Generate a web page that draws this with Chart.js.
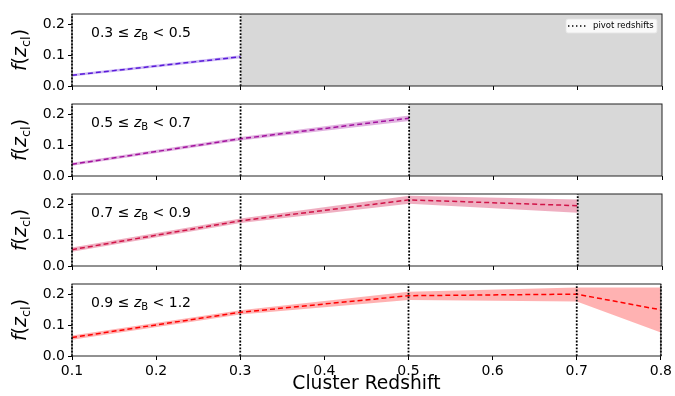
<!DOCTYPE html>
<html>
<head>
<meta charset="utf-8">
<script src="https://cdn.jsdelivr.net/npm/chart.js@4.4.1/dist/chart.umd.min.js"></script>
<style>
  html, body { margin: 0; padding: 0; background: #fff; }
  #wrap { position: relative; width: 675px; height: 396px; }
  #wrap canvas { position: absolute; left: 0; top: 0; }
</style>
</head>
<body>
<div id="wrap">
  <canvas id="c0" width="675" height="396"></canvas>
  <canvas id="c1" width="675" height="396"></canvas>
  <canvas id="c2" width="675" height="396"></canvas>
  <canvas id="c3" width="675" height="396"></canvas>
</div>
<script>
// ---------- data ----------
const xPivots = [0.1, 0.3, 0.5, 0.7, 0.8];
const xTicks = [0.1, 0.2, 0.3, 0.4, 0.5, 0.6, 0.7, 0.8];
const yTicks = [0.0, 0.1, 0.2];
const binLow = ['0.3', '0.5', '0.7', '0.9'];
const binHigh = ['0.5', '0.7', '0.9', '1.2'];

const f1 = [0.035, 0.095];
const f1lo = [0.031, 0.090];
const f1hi = [0.039, 0.100];

const f2 = [0.038, 0.121, 0.188];
const f2lo = [0.033, 0.115, 0.179];
const f2hi = [0.043, 0.127, 0.197];

const f3 = [0.053, 0.147, 0.215, 0.196];
const f3lo = [0.046, 0.140, 0.202, 0.173];
const f3hi = [0.060, 0.154, 0.228, 0.216];

const f4 = [0.060, 0.142, 0.196, 0.201, 0.150];
const f4lo = [0.053, 0.135, 0.182, 0.177, 0.076];
const f4hi = [0.067, 0.149, 0.209, 0.223, 0.223];

const maskStart = [0.3, 0.5, 0.7, null];
const legendLabel = 'pivot redshifts';
const xTitle = 'Cluster Redshift';

const series = [f1, f2, f3, f4];
const seriesLo = [f1lo, f2lo, f3lo, f4lo];
const seriesHi = [f1hi, f2hi, f3hi, f4hi];

// ---------- styles ----------
const lineColors = ['#5b1ad9', '#a3129e', '#d01448', '#ff0000'];
const bandColors = ['rgba(91,26,217,0.3)', 'rgba(163,18,158,0.32)', 'rgba(208,20,72,0.34)', 'rgba(255,0,0,0.3)'];
const panelTop = [14, 104, 194, 284];
const panelBottom = [86, 176, 266, 356];
const FONT = 'DejaVu Sans';

Chart.defaults.font.family = FONT;
Chart.defaults.color = '#000';

function toPts(ys) { return ys.map((y, i) => ({ x: xPivots[i], y: y })); }

const decoPlugin = {
  id: 'deco',
  beforeDatasetsDraw(chart) {
    const p = chart.options.plugins.deco.panel;
    const { ctx, chartArea: a, scales } = chart;
    ctx.save();
    if (maskStart[p] !== null) {
      const x0 = scales.x.getPixelForValue(maskStart[p]);
      ctx.fillStyle = '#d8d8d8';
      ctx.fillRect(x0, a.top, a.right - x0, a.bottom - a.top);
    }
    ctx.restore();
  },
  afterDatasetsDraw(chart) {
    const p = chart.options.plugins.deco.panel;
    const { ctx, chartArea: a, scales } = chart;
    ctx.save();
    // pivot lines
    ctx.strokeStyle = '#000';
    ctx.lineWidth = 1.8;
    ctx.setLineDash([1.8, 1.6]);
    const n = series[p].length;
    for (let i = 0; i < n; i++) {
      const x = scales.x.getPixelForValue(xPivots[i]);
      ctx.beginPath();
      ctx.moveTo(x, a.bottom);
      ctx.lineTo(x, a.top);
      ctx.stroke();
    }
    ctx.setLineDash([]);
    // frame
    ctx.strokeStyle = '#222';
    ctx.lineWidth = 1;
    ctx.strokeRect(a.left, a.top, a.right - a.left, a.bottom - a.top);

    // bin annotation: 0.3 ≤ z_B < 0.5
    let x = a.left + 19;
    const yb = a.top + 22.5;
    ctx.fillStyle = '#000';
    ctx.textBaseline = 'alphabetic';
    ctx.textAlign = 'left';
    ctx.font = '14px "' + FONT + '"';
    const s1 = binLow[p] + ' \u2264 ';
    ctx.fillText(s1, x, yb); x += ctx.measureText(s1).width;
    ctx.font = 'italic 14px "' + FONT + '"';
    ctx.fillText('z', x, yb); x += ctx.measureText('z').width;
    ctx.font = '10px "' + FONT + '"';
    ctx.fillText('B', x, yb + 3); x += ctx.measureText('B').width;
    ctx.font = '14px "' + FONT + '"';
    ctx.fillText(' < ' + binHigh[p], x, yb);

    // y-axis title f(z_cl)
    const cy = (a.top + a.bottom) / 2;
    const parts = [
      { t: 'f', f: 'italic 19px "' + FONT + '"', dy: 0 },
      { t: '(', f: '19px "' + FONT + '"', dy: 0 },
      { t: 'z', f: 'italic 19px "' + FONT + '"', dy: 0 },
      { t: 'cl', f: '13px "' + FONT + '"', dy: 4 },
      { t: ')', f: '19px "' + FONT + '"', dy: 0 }
    ];
    let tw = 0;
    parts.forEach(q => { ctx.font = q.f; q.w = ctx.measureText(q.t).width; tw += q.w; });
    ctx.translate(26, cy);
    ctx.rotate(-Math.PI / 2);
    let px = -tw / 2;
    parts.forEach(q => { ctx.font = q.f; ctx.fillText(q.t, px, q.dy); px += q.w; });
    ctx.restore();

    // legend (first panel)
    if (p === 0) {
      ctx.save();
      const bx = 566, by = 19, bw = 91, bh = 14;
      ctx.fillStyle = 'rgba(255,255,255,0.85)';
      ctx.strokeStyle = 'rgba(230,230,230,0.9)';
      ctx.lineWidth = 1;
      ctx.beginPath();
      if (ctx.roundRect) ctx.roundRect(bx, by, bw, bh, 2); else ctx.rect(bx, by, bw, bh);
      ctx.fill();
      ctx.stroke();
      ctx.strokeStyle = '#000';
      ctx.lineWidth = 1.4;
      ctx.setLineDash([1.4, 2.6]);
      ctx.beginPath();
      ctx.moveTo(568, 26);
      ctx.lineTo(586, 26);
      ctx.stroke();
      ctx.setLineDash([]);
      ctx.fillStyle = '#000';
      ctx.font = '8.5px "' + FONT + '"';
      ctx.textBaseline = 'middle';
      ctx.fillText(legendLabel, 593, 26);
      ctx.restore();
    }

    // x-axis title (last panel)
    if (p === 3) {
      ctx.save();
      ctx.fillStyle = '#000';
      ctx.font = '18.7px "' + FONT + '"';
      ctx.textAlign = 'center';
      ctx.textBaseline = 'middle';
      ctx.fillText(xTitle, (a.left + a.right) / 2, 384);
      ctx.restore();
    }
  }
};

for (let p = 0; p < 4; p++) {
  const last = p === 3;
  const xAxisH = last ? 40 : 0;
  new Chart(document.getElementById('c' + p), {
    type: 'line',
    data: {
      datasets: [
        { data: toPts(seriesLo[p]), borderWidth: 0, pointRadius: 0, fill: false, borderColor: 'rgba(0,0,0,0)' },
        { data: toPts(seriesHi[p]), borderWidth: 0, pointRadius: 0, fill: '-1', backgroundColor: bandColors[p], borderColor: 'rgba(0,0,0,0)' },
        { data: toPts(series[p]), borderWidth: 1.5, pointRadius: 0, fill: false, borderColor: lineColors[p], borderDash: [5, 3] }
      ]
    },
    options: {
      responsive: false,
      animation: false,
      devicePixelRatio: 1,
      events: [],
      layout: { padding: { top: panelTop[p], bottom: 396 - panelBottom[p] - xAxisH, left: 0, right: 13 } },
      plugins: { legend: { display: false }, tooltip: { enabled: false }, deco: { panel: p } },
      scales: {
        x: {
          type: 'linear', min: 0.1, max: 0.8,
          afterBuildTicks: s => { s.ticks = xTicks.map(v => ({ value: v })); },
          afterFit: s => { s.height = xAxisH; },
          grid: { display: true, drawOnChartArea: false, drawTicks: true, tickLength: 4, color: '#000', lineWidth: 1 },
          border: { display: false },
          ticks: { display: last, padding: 3, font: { size: 14, family: FONT }, color: '#000', maxRotation: 0,
                   callback: v => Number(v).toFixed(1) }
        },
        y: {
          type: 'linear', min: 0, max: 0.234,
          afterBuildTicks: s => { s.ticks = yTicks.map(v => ({ value: v })); },
          afterFit: s => { s.width = 72; },
          grid: { display: true, drawOnChartArea: false, drawTicks: true, tickLength: 4, color: '#000', lineWidth: 1 },
          border: { display: false },
          ticks: { padding: 3, font: { size: 14, family: FONT }, color: '#000',
                   callback: v => Number(v).toFixed(1) }
        }
      }
    },
    plugins: [decoPlugin]
  });
}
</script>
</body>
</html>
